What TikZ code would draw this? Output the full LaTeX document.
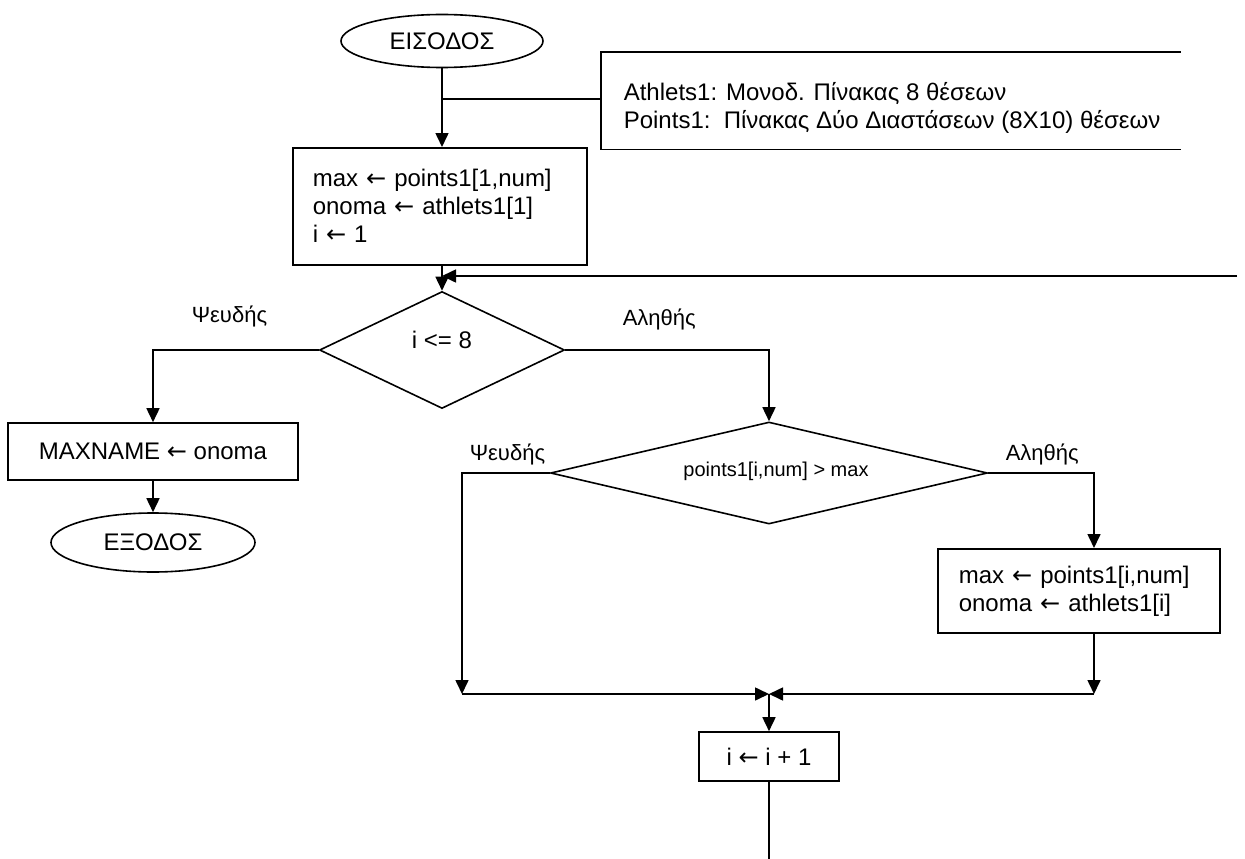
\documentclass[tikz,border=0pt]{standalone}
\usepackage{fontspec}
\setmainfont{Liberation Sans}
\newfontfamily\arrowfont{DejaVu Sans}
\newcommand{\lar}{{\arrowfont ←}}
\usetikzlibrary{shapes.geometric,arrows.meta}
\begin{document}
\begin{tikzpicture}[x=1pt,y=-1pt,line width=1.6pt,
  every node/.style={font=\fontsize{24}{28}\selectfont},
  arr/.style={-{Triangle[length=14pt,width=13pt]}},
  box/.style={draw,rectangle,inner sep=0pt},
  term/.style={draw,ellipse,inner sep=0pt},
  dec/.style={draw,diamond,inner sep=0pt},
  lbl/.style={font=\fontsize{22}{26}\selectfont,anchor=base west,inner sep=0pt}]
\useasboundingbox (0,0) rectangle (1245,859);
% nodes
\node[term,minimum width=202pt,minimum height=53pt] (start) at (442,41) {ΕΙΣΟΔΟΣ};
\node[box,anchor=north west,text width=254pt,inner xsep=20pt,inner ysep=0pt,
      minimum height=117pt,align=left] (init) at (292,147)
      {max \lar{} points1[1,num]\\onoma \lar{} athlets1[1]\\i \lar{} 1};
\node[minimum width=578pt,minimum height=96pt,inner sep=0pt,anchor=north west] (note) at (601,52) {};
\node[anchor=west,inner sep=0pt,align=left] (notetext) at (623,107.5)
      {Athlets1: Μονοδ. Πίνακας 8 θέσεων\\Points1:\ \ Πίνακας Δύο Διαστάσεων (8X10) θέσεων};
\node[dec,minimum width=245pt,minimum height=117pt,
      label={[yshift=10pt]center:i <= 8}] (cond1) at (442,350) {};
\node[box,minimum width=290pt,minimum height=57pt] (maxname) at (153,451.5) {MAXNAME \lar{} onoma};
\node[term,minimum width=204pt,minimum height=59pt] (stop) at (153,542.5) {ΕΞΟΔΟΣ};
\node[dec,minimum width=437pt,minimum height=102pt,
      label={[xshift=7pt,yshift=2pt,font=\fontsize{20}{24}\selectfont]center:points1[i,num] > max}] (cond2) at (769,473) {};
\node[box,anchor=north west,text width=240pt,inner xsep=21pt,inner ysep=0pt,
      minimum height=84pt,align=left] (upd) at (937,548)
      {max \lar{} points1[i,num]\\onoma \lar{} athlets1[i]};
\node[box,minimum width=140pt,minimum height=49pt] (inc) at (769,756.5) {i \lar{} i + 1};
% labels
\node[lbl] (f1) at (191,322) {Ψευδής};
\node[lbl] (t1) at (622,325) {Αληθής};
\node[lbl] (f2) at (469,460) {Ψευδής};
\node[lbl] (t2) at (1005,460) {Αληθής};
% coordinates
\coordinate (j1) at (442,99);
\coordinate (loopin) at (1237,276);
\coordinate (mL) at (462,694);
\coordinate (mR) at (1094,694);
\coordinate (mC) at (769,694);
\coordinate (loopout) at (769,859);
% connectors
\draw (note.north east) -- (note.north west) -- (note.south west) -- (note.south east);
\draw[arr] (start.south) -- (start.south |- init.north);
\draw (j1) -- (j1 -| note.west);
\draw[arr] (cond1.north |- init.south) -- (cond1.north);
\draw[arr] (loopin) -- (loopin -| cond1.north);
\draw[arr] (cond1.west) -| (maxname.north);
\draw[arr] (maxname.south) -- (stop.north);
\draw[arr] (cond1.east) -| (cond2.north);
\draw[arr] (cond2.west) -| (mL);
\draw[arr] (cond2.east) -| (upd.north -| mR);
\draw[arr] (upd.south -| mR) -- (mR);
\draw[arr] (mL) -- (mC);
\draw[arr] (mR) -- (mC);
\draw[arr] (mC) -- (inc.north);
\draw (inc.south) -- (loopout);
\end{tikzpicture}
\end{document}
